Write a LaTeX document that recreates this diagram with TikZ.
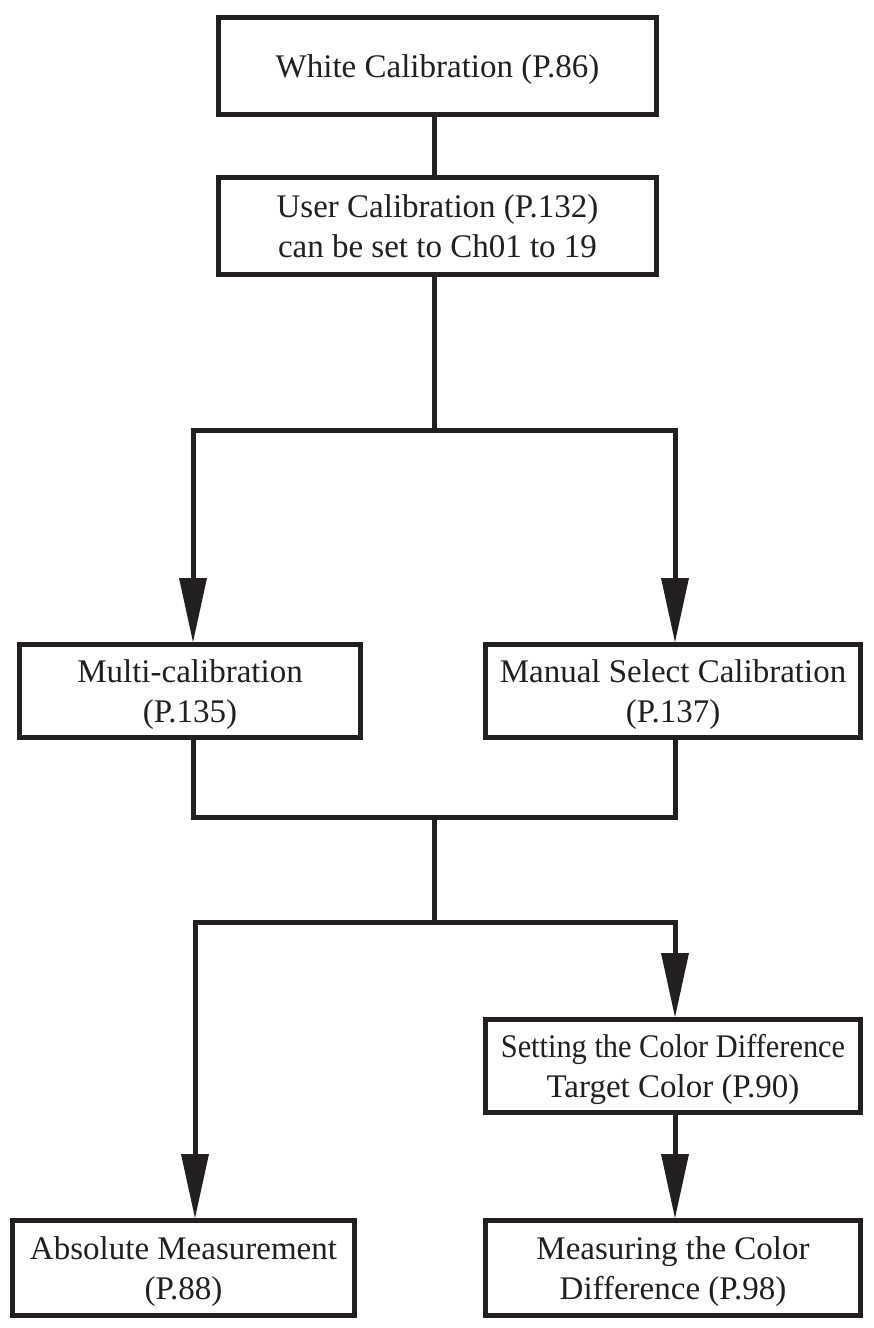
\documentclass[tikz,border=0pt]{standalone}
\usepackage{fontspec}
\setmainfont{Liberation Serif}
\usetikzlibrary{arrows.meta}
\definecolor{ink}{HTML}{231F20}
\begin{document}
\begin{tikzpicture}[x=1pt,y=-1pt,
  box/.style={draw=ink, line width=5pt, rectangle, inner sep=0pt, align=center,
    font=\fontsize{33}{40}\selectfont, text=ink, text depth=-2pt},
  conn/.style={draw=ink, line width=5pt, line join=miter},
  arr/.style={conn, -{Triangle[length=64pt,width=28pt,line width=0pt]}},
]
\useasboundingbox (0,0) rectangle (873,1328);
\fill[white] (0,0) rectangle (873,1328);

\node[box, minimum width=438pt, minimum height=97pt] (white) at (437.5,66) {White Calibration (P.86)};
\node[box, minimum width=438pt, minimum height=97pt] (user) at (437.5,226) {User Calibration (P.132)\\can be set to Ch01 to 19};
\node[box, minimum width=341pt, minimum height=93pt] (multi) at (190,691) {Multi-calibration\\(P.135)};
\node[box, minimum width=375pt, minimum height=93pt] (manual) at (673,691) {Manual Select Calibration\\(P.137)};
\node[box, minimum width=375pt, minimum height=93pt] (setting) at (673,1066) {\scalebox{0.92}[1]{Setting the Color Difference}\\Target Color (P.90)};
\node[box, minimum width=342pt, minimum height=95pt] (absolute) at (183.5,1268) {Absolute Measurement\\(P.88)};
\node[box, minimum width=375pt, minimum height=95pt] (measuring) at (673,1268) {Measuring the Color\\Difference (P.98)};

\coordinate (j1) at (434,430);
\coordinate (j1L) at (193,430);
\coordinate (j1R) at (675,430);
\coordinate (j2) at (434,817);
\coordinate (j3) at (434,922);
\coordinate (j3L) at (195,922);
\coordinate (j3R) at (675,922);

\draw[conn] (white.south -| j1) -- (user.north -| j1);
\draw[conn] (user.south -| j1) -- (j1);
\draw[arr] (j1) -- (j1L) -- (j1L |- multi.north);
\draw[arr] (j1) -- (j1R) -- (j1R |- manual.north);
\draw[conn] (multi.south -| j1L) -- (j1L |- j2) -- (j1R |- j2) -- (manual.south -| j1R);
\draw[conn] (j2) -- (j3);
\draw[arr] (j3) -- (j3L) -- (j3L |- absolute.north);
\draw[arr] (j3) -- (j3R) -- (j3R |- setting.north);
\draw[arr] (setting.south -| j3R) -- (measuring.north -| j3R);
\end{tikzpicture}
\end{document}
